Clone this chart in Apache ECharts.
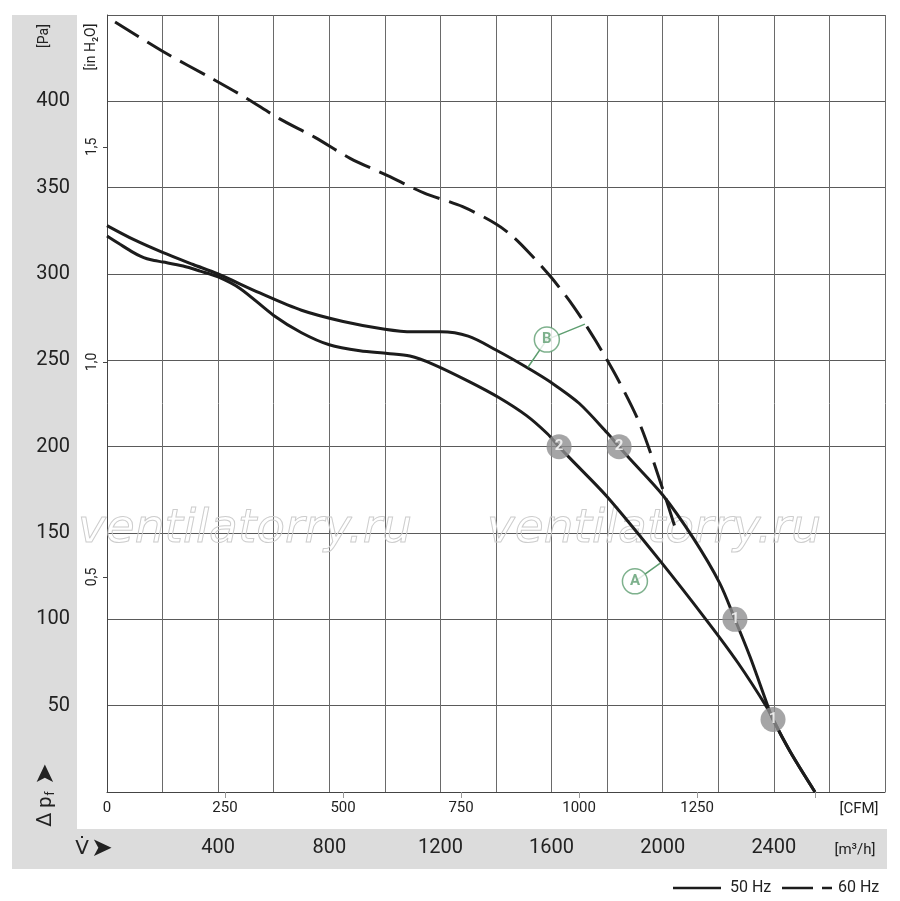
<!DOCTYPE html>
<html>
<head>
<meta charset="utf-8">
<title>Fan curve</title>
<script src="https://cdn.jsdelivr.net/npm/echarts@6.0.0/dist/echarts.min.js"></script>
<style>
    html, body { margin: 0; padding: 0; background: #fff; }
    #fanChart { width: 900px; height: 901px; }
</style>
</head>
<body>
<div id="fanChart"></div>
<script>
// 50 Hz, curve B (upper solid)
const flowB = [0, 95, 200, 310, 400, 550, 700, 850, 1000, 1100, 1200, 1300, 1400, 1510, 1600, 1700, 1800, 1843, 1880, 2000, 2110, 2205, 2260, 2315, 2380, 2397, 2460, 2548]
const pressB = [328, 320, 312.5, 305.5, 300, 289, 279, 272.5, 268, 266.5, 266.5, 264, 256, 246, 237, 225, 208, 200, 193.3, 172, 147, 121, 100, 78, 49, 42, 23, 0]

// 50 Hz, curve A (lower solid)
const flowA = [0, 47, 94, 120, 144, 170, 202, 274, 335, 400, 480, 600, 700, 800, 910, 1010, 1090, 1170, 1300, 1410, 1510, 1585, 1627, 1665, 1800, 1990, 2160, 2270, 2375, 2397, 2460, 2548]
const pressA = [322, 317.2, 312.5, 310.3, 308.8, 307.8, 306.9, 304.6, 301.7, 298.3, 291.5, 276, 266, 259, 255.5, 254, 252.5, 248, 238, 228.5, 218, 207.5, 200, 193.5, 171, 134, 99, 75, 49, 42, 23, 0]

// 60 Hz (dashed)
const flow60 = [29, 200, 380, 500, 620, 750, 875, 1010, 1140, 1280, 1400, 1460, 1520, 1600, 1680, 1760, 1840, 1920, 2000, 2050]
const press60 = [446, 429, 413, 402, 390, 379, 367, 357, 347, 339, 329, 321.8, 312.2, 297.8, 281, 261, 238.6, 212.2, 175.4, 150.4]

// operating points 1 / 2
const pointFlow = [1627, 1843, 2260, 2397]
const pointPress = [200, 200, 100, 42]
const pointText = ['2', '2', '1', '1']

// curve letters and their leader lines
const letterFlow = [1583, 1900]
const letterPress = [262, 122]
const letterText = ['B', 'A']
const leaderB = [[1515, 246], [1583, 262], [1720, 271]]
const leaderA = [[1900, 122], [1990, 132.4]]

// axis ticks
const cfmTicks = [250, 500, 750, 1000, 1250, 1500]
const cfmLabels = [0, 250, 500, 750, 1000, 1250]
const inchTicks = [0.5, 1.0, 1.5]

const M3H_PER_CFM = 1.699
const PA_PER_INH2O = 249.089
const FONT = 'Roboto, "DejaVu Sans", sans-serif'
const INK = '#1c1c1c'
const GREEN = '#5e9e70'

function zip(xs, ys, extra) {
    let out = []
    for (let i = 0; i < xs.length; i++) {
        out.push(extra ? [xs[i], ys[i], extra[i]] : [xs[i], ys[i]])
    }
    return out
}

function curve(name, xs, ys, dashed) {
    return {
        name: name,
        type: 'line',
        data: zip(xs, ys),
        smooth: 0.3,
        symbol: 'none',
        z: 3,
        lineStyle: { color: INK, width: 3, type: dashed ? [28, 10] : 'solid', cap: 'butt' }
    }
}

function leader(data) {
    return {
        type: 'line',
        data: data,
        symbol: 'none',
        z: 4,
        lineStyle: { color: GREEN, width: 1.5 }
    }
}

var myChart = echarts.init(document.getElementById('fanChart'));

var option = {
    animation: false,
    backgroundColor: '#fff',
    grid: { left: 107, right: 15, top: 15, bottom: 109 },
    xAxis: [
        {
            type: 'value',
            min: 0,
            max: 2800,
            interval: 200,
            position: 'bottom',
            axisLine: { show: true, lineStyle: { color: '#444', width: 1 } },
            axisTick: { show: false },
            splitLine: { show: true, lineStyle: { color: '#6a6a6a', width: 1 } },
            axisLabel: {
                margin: 46,
                fontSize: 20,
                color: '#222',
                fontFamily: FONT,
                formatter: v => (v > 0 && v < 2800 && v % 400 === 0) ? String(v) : ''
            }
        },
        {
            type: 'value',
            min: 0,
            max: 2800 / M3H_PER_CFM,
            position: 'bottom',
            axisLine: { show: false },
            splitLine: { show: false },
            axisTick: { show: true, inside: false, length: 6, customValues: cfmTicks, lineStyle: { color: '#999' } },
            axisLabel: {
                margin: 9,
                fontSize: 15,
                color: '#222',
                fontFamily: FONT,
                customValues: cfmLabels,
                formatter: v => String(v)
            }
        }
    ],
    yAxis: [
        {
            type: 'value',
            min: 0,
            max: 450,
            interval: 50,
            position: 'left',
            axisLine: { show: true, lineStyle: { color: '#444', width: 1 } },
            axisTick: { show: false },
            splitLine: { show: true, lineStyle: { color: '#5a5a5a', width: 1 } },
            axisLabel: {
                margin: 37,
                fontSize: 20,
                color: '#222',
                fontFamily: FONT,
                formatter: v => (v > 0 && v < 450) ? String(v) : ''
            }
        },
        {
            type: 'value',
            min: 0,
            max: 450 / PA_PER_INH2O,
            position: 'left',
            axisLine: { show: false },
            splitLine: { show: false },
            axisTick: { show: true, inside: false, length: 4, customValues: inchTicks, lineStyle: { color: '#444' } },
            axisLabel: {
                margin: 8,
                rotate: 90,
                fontSize: 14,
                color: '#222',
                fontFamily: FONT,
                customValues: inchTicks,
                formatter: v => v.toFixed(1).replace('.', ',')
            }
        }
    ],
    graphic: [
        // grey label bands
        { type: 'rect', z: -1, shape: { x: 12, y: 15, width: 65, height: 814 }, style: { fill: '#dcdcdc' } },
        { type: 'rect', z: -1, shape: { x: 12, y: 829, width: 875, height: 40 }, style: { fill: '#dcdcdc' } },
        // watermark
        { type: 'text', z: 1, x: 245, y: 530, style: { text: 'ventilatorry.ru', align: 'center', verticalAlign: 'middle', fontSize: 47, fontStyle: 'italic', fontFamily: '"DejaVu Sans"', fill: 'transparent', stroke: '#cdcdcd', lineWidth: 1 } },
        { type: 'text', z: 1, x: 654, y: 530, style: { text: 'ventilatorry.ru', align: 'center', verticalAlign: 'middle', fontSize: 47, fontStyle: 'italic', fontFamily: '"DejaVu Sans"', fill: 'transparent', stroke: '#cdcdcd', lineWidth: 1 } },
        // unit captions
        { type: 'text', x: 44, y: 36, rotation: Math.PI / 2, style: { text: '[Pa]', align: 'center', verticalAlign: 'middle', fontSize: 14, fontFamily: FONT, fill: '#222' } },
        { type: 'text', x: 91, y: 47, rotation: Math.PI / 2, style: { text: '[in H₂O]', align: 'center', verticalAlign: 'middle', fontSize: 14, fontFamily: FONT, fill: '#222' } },
        {
            type: 'text', x: 46, y: 795, rotation: Math.PI / 2,
            style: {
                text: '{a|Δ p}{s|f}{b| ➤}', align: 'center', verticalAlign: 'middle', fill: '#222',
                rich: {
                    a: { fontSize: 20, fontFamily: FONT, fill: '#222' },
                    b: { fontSize: 26, fontFamily: FONT, fill: '#222' },
                    s: { fontSize: 12, fontFamily: FONT, fill: '#222', padding: [10, 0, 0, 1] }
                }
            }
        },
        { type: 'text', x: 82, y: 849, style: { text: 'V̇', align: 'center', verticalAlign: 'middle', fontSize: 20, fontFamily: FONT, fill: '#222' } },
        { type: 'text', x: 102, y: 849, style: { text: '➤', align: 'center', verticalAlign: 'middle', fontSize: 26, fontFamily: FONT, fill: '#222' } },
        { type: 'text', x: 859, y: 809, style: { text: '[CFM]', align: 'center', verticalAlign: 'middle', fontSize: 15, fontFamily: FONT, fill: '#222' } },
        { type: 'text', x: 855, y: 850, style: { text: '[m³/h]', align: 'center', verticalAlign: 'middle', fontSize: 15, fontFamily: FONT, fill: '#222' } },
        // legend
        { type: 'line', shape: { x1: 673, y1: 888, x2: 721, y2: 888 }, style: { stroke: INK, lineWidth: 2.5 } },
        { type: 'text', x: 730, y: 888, style: { text: '50 Hz', align: 'left', verticalAlign: 'middle', fontSize: 16, fontFamily: FONT, fill: '#222' } },
        { type: 'line', shape: { x1: 782, y1: 888, x2: 832, y2: 888 }, style: { stroke: INK, lineWidth: 2.5, lineDash: [31, 9] } },
        { type: 'text', x: 838, y: 888, style: { text: '60 Hz', align: 'left', verticalAlign: 'middle', fontSize: 16, fontFamily: FONT, fill: '#222' } }
    ],
    series: [
        curve('50 Hz B', flowB, pressB, false),
        curve('50 Hz A', flowA, pressA, false),
        curve('60 Hz', flow60, press60, true),
        leader(leaderB),
        leader(leaderA),
        {
            name: 'letters',
            type: 'scatter',
            data: zip(letterFlow, letterPress, letterText),
            symbol: 'circle',
            symbolSize: 25,
            z: 5,
            itemStyle: { color: '#fff', borderColor: GREEN, borderWidth: 1.5 },
            label: { show: true, position: 'inside', formatter: p => p.data[2], color: GREEN, fontSize: 15, fontWeight: 'bold', fontFamily: FONT }
        },
        {
            name: 'points',
            type: 'scatter',
            data: zip(pointFlow, pointPress, pointText),
            symbol: 'circle',
            symbolSize: 25,
            z: 5,
            itemStyle: { color: '#8e8e90' },
            label: { show: true, position: 'inside', formatter: p => p.data[2], color: '#fff', fontSize: 15, fontWeight: 'bold', fontFamily: FONT }
        }
    ]
};

myChart.setOption(option);
</script>
</body>
</html>
